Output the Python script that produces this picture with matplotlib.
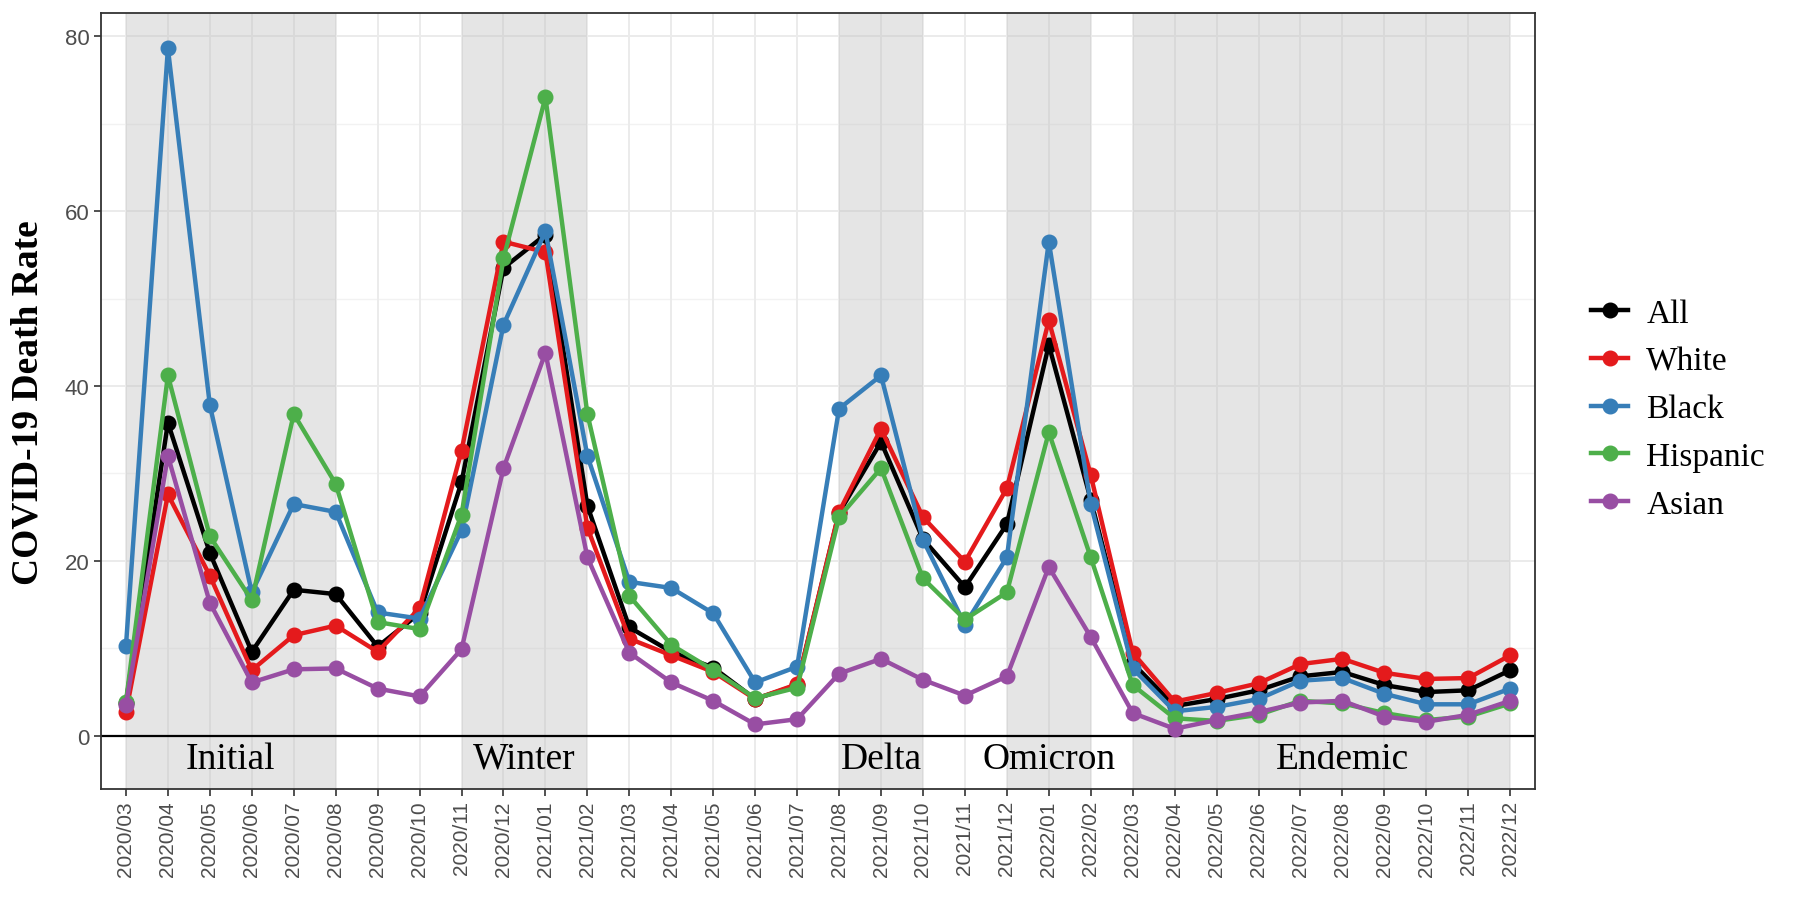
import matplotlib
matplotlib.use('Agg')
import matplotlib.pyplot as plt
import numpy as np

# months on the x axis
months = ['2020/03', '2020/04', '2020/05', '2020/06', '2020/07', '2020/08', '2020/09',
          '2020/10', '2020/11', '2020/12', '2021/01', '2021/02', '2021/03', '2021/04',
          '2021/05', '2021/06', '2021/07', '2021/08', '2021/09', '2021/10', '2021/11',
          '2021/12', '2022/01', '2022/02', '2022/03', '2022/04', '2022/05', '2022/06',
          '2022/07', '2022/08', '2022/09', '2022/10', '2022/11', '2022/12']

all_rate = [3.8, 35.8, 20.9, 9.6, 16.7, 16.2, 10.2, 14.0, 29.0, 53.5, 57.3, 26.3,
            12.4, 9.6, 7.8, 4.2, 5.8, 25.5, 33.6, 22.5, 17.0, 24.2, 44.7, 27.0,
            8.3, 3.4, 4.2, 5.2, 6.8, 7.3, 5.8, 5.0, 5.2, 7.5]
white = [2.7, 27.6, 18.3, 7.5, 11.5, 12.6, 9.6, 14.6, 32.6, 56.5, 55.3, 23.8,
         11.1, 9.2, 7.3, 4.2, 5.9, 25.6, 35.1, 25.0, 19.9, 28.3, 47.5, 29.8,
         9.5, 3.9, 4.9, 6.0, 8.2, 8.8, 7.2, 6.5, 6.6, 9.2]
black = [10.3, 78.6, 37.8, 16.4, 26.5, 25.6, 14.1, 13.4, 23.5, 47.0, 57.7, 32.0,
         17.6, 16.9, 14.0, 6.1, 7.9, 37.4, 41.2, 22.4, 12.7, 20.4, 56.5, 26.5,
         7.7, 2.8, 3.3, 4.2, 6.3, 6.6, 4.8, 3.6, 3.6, 5.4]
hispanic = [3.9, 41.2, 22.8, 15.5, 36.8, 28.8, 13.0, 12.2, 25.3, 54.6, 73.0, 36.8,
            16.0, 10.4, 7.5, 4.3, 5.5, 25.0, 30.6, 18.0, 13.3, 16.4, 34.7, 20.4,
            5.8, 2.0, 1.7, 2.4, 4.0, 3.7, 2.6, 1.8, 2.2, 3.7]
asian = [3.5, 32.0, 15.2, 6.1, 7.6, 7.7, 5.4, 4.5, 9.9, 30.6, 43.8, 20.4,
         9.5, 6.1, 4.0, 1.3, 1.9, 7.1, 8.8, 6.4, 4.6, 6.8, 19.3, 11.3,
         2.6, 0.8, 1.8, 2.7, 3.8, 4.0, 2.2, 1.6, 2.4, 4.0]

groups = ['All', 'White', 'Black', 'Hispanic', 'Asian']
colors = ['#000000', '#E41A1C', '#377EB8', '#4DAF4A', '#984EA3']

# shaded periods: (label, first month, last month)
periods = [('Initial', '2020/03', '2020/08'),
           ('Winter', '2020/11', '2021/02'),
           ('Delta', '2021/08', '2021/10'),
           ('Omicron', '2021/12', '2022/02'),
           ('Endemic', '2022/03', '2022/12')]

serif = ['Liberation Serif', 'DejaVu Serif']
sans = ['Liberation Sans', 'DejaVu Sans']

fig = plt.figure(figsize=(18, 9.03), dpi=100)
ax = fig.add_axes([0.056, 0.125, 0.797, 0.859])

x = np.arange(len(months))

# grid (drawn first, shading goes over it)
for yv in [0, 20, 40, 60, 80]:
    ax.axhline(yv, color='#EBEBEB', lw=1.4, zorder=0)
for yv in [10, 30, 50, 70]:
    ax.axhline(yv, color='#F2F2F2', lw=1.0, zorder=0)
for xv in x:
    ax.axvline(xv, color='#EBEBEB', lw=1.4, zorder=0)

for name, a, b in periods:
    i0, i1 = months.index(a), months.index(b)
    ax.axvspan(i0, i1, color='#BEBEBE', alpha=0.4, lw=0, zorder=1)
    xc = (i0 + i1) / 2
    if name == 'Endemic':
        xc = i0 + 5
    ax.text(xc, -2.6, name, ha='center', va='center', fontsize=27,
            family=serif, zorder=5)

ax.axhline(0, color='black', lw=1.6, zorder=2)

series = [all_rate, white, black, hispanic, asian]
for k, (vals, name, c) in enumerate(zip(series, groups, colors)):
    ax.plot(x, vals, '-o', color=c, lw=3.2, ms=10.5, label=name, zorder=3 + k * 0.1)

ax.set_xlim(-0.6, 33.6)
ax.set_ylim(-6.1, 82.6)
ax.set_xticks(x)
ax.set_xticklabels(months, rotation=90, fontsize=15, color='#4D4D4D', family=sans)
ax.set_yticks([0, 20, 40, 60, 80])
ax.set_yticklabels(['0', '20', '40', '60', '80'], fontsize=16, color='#4D4D4D', family=sans)
ax.tick_params(length=5, width=1.2, color='#333333', pad=3)
for s in ax.spines.values():
    s.set_color('#333333')
    s.set_linewidth(1.3)

ax.set_ylabel('COVID-19 Death Rate', fontsize=27, fontweight='bold', family=serif,
              labelpad=14)

leg = ax.legend(loc='center left', bbox_to_anchor=(1.018, 0.49), frameon=False,
                prop={'family': serif, 'size': 24}, handlelength=1.1,
                handletextpad=0.55, labelspacing=0.52)

fig.savefig('out.png', dpi=100)
